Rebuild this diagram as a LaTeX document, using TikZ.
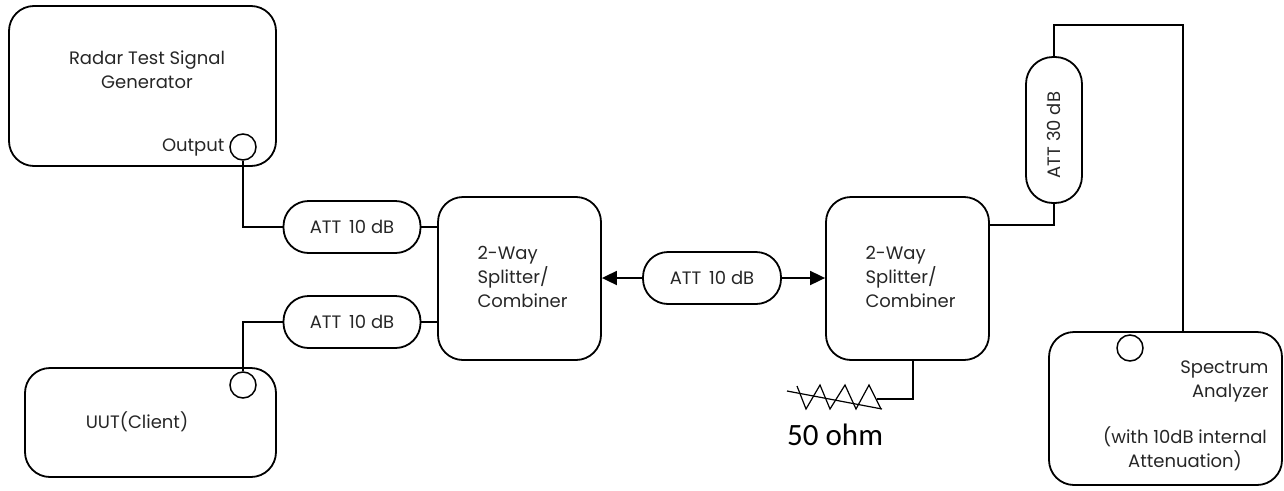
\documentclass[tikz,border=0pt]{standalone}
\usepackage{fontspec}
\setmainfont{Poppins}
\newfontfamily\ohmfont{Carlito}
\usetikzlibrary{arrows.meta}
\begin{document}
\begin{tikzpicture}[x=1pt,y=-1pt,
  every node/.style={font=\fontsize{18}{24}\selectfont, text=black!85},
  box/.style={draw=black, line width=1.8pt, rounded corners=25pt, inner sep=0pt},
  attbox/.style={draw=black, line width=1.8pt, rounded corners=25pt, inner sep=0pt, minimum width=137pt, minimum height=52pt},
  port/.style={draw=black, line width=1.5pt, circle, inner sep=0pt, minimum size=26pt},
  wire/.style={line width=1.8pt, black},
  arr/.style={wire, -{Triangle[length=15pt,width=14pt]}}]
\useasboundingbox (0,0) rectangle (1284,490);
% boxes
\node[box, minimum width=267pt, minimum height=160pt] (gen) at (142.5,86) {};
\node (gentxt) at (147,70) [align=center] {Radar Test Signal\\Generator};
\node[port] (genout) at (243,147) {};
\node[anchor=east] (outtxt) at (228,147) {Output};

\node[box, minimum width=251pt, minimum height=109pt] (uut) at (150.5,422.5) {};
\node (uuttxt) at (137,422) {UUT(Client)};
\node[port] (uutp) at (243,385) {};

\node[attbox] (att1) at (352,227) {ATT\, 10 dB};
\node[attbox] (att2) at (352,322) {ATT\, 10 dB};

\node[box, minimum width=163pt, minimum height=163pt] (sp1) at (519.5,278.5) {};
\node[align=left, anchor=west] (sp1txt) at (474,277) {2-Way\\Splitter/\\Combiner};

\node[attbox, minimum width=138pt] (att3) at (712,278) {ATT\, 10 dB};

\node[box, minimum width=163pt, minimum height=163pt] (sp2) at (907.5,278.5) {};
\node[align=left, anchor=west] (sp2txt) at (862,277) {2-Way\\Splitter/\\Combiner};

\node[draw=black, line width=1.8pt, rounded corners=27pt, inner sep=0pt, minimum width=56pt, minimum height=146pt] (att4) at (1054,130) {};
\node[rotate=90] (att4txt) at (1054,135) {ATT 30 dB};

\node[box, minimum width=233pt, minimum height=153pt] (sa) at (1165.5,408.5) {};
\node[port] (sap) at (1130,348) {};
\node[align=right, anchor=east] (satxt1) at (1272,381.5) {Spectrum\\Analyzer};
\node[align=center] (satxt2) at (1185,449) {(with 10dB internal\\Attenuation)};

% connectors
\draw[wire] (genout.south) |- (att1.west);
\draw[wire] (att1.east) -- (att1.east -| sp1.west);
\draw[wire] (uutp.north) |- (att2.west);
\draw[wire] (att2.east) -- (att2.east -| sp1.west);
\draw[arr] (att3.west) -- (att3.west -| sp1.east);
\draw[arr] (att3.east) -- (att3.east -| sp2.west);
\coordinate (sp2o) at (989,225);
\draw[wire] (sp2o) -| (att4.south);
\coordinate (tr) at (1183,25);
\draw[wire] (att4.north) |- (tr) -- (tr |- sa.north);

% 50 ohm termination
\coordinate (rt) at (913,360);
\coordinate (rj) at (877,399);
\draw[wire] (rt) |- (rj);
\draw[line width=1.2pt, line join=miter] (797,386) -- (806,409) -- (820,385) -- (830,409) -- (845,385) -- (856,409) -- (869,385) -- (881,409);
\draw[line width=1.2pt] (787,391) -- (882,409);
\node[anchor=base west, inner sep=0pt, text=black, font=\ohmfont\fontsize{31}{34}\selectfont] (ohm) at (787,445) {50 ohm};
\end{tikzpicture}
\end{document}
